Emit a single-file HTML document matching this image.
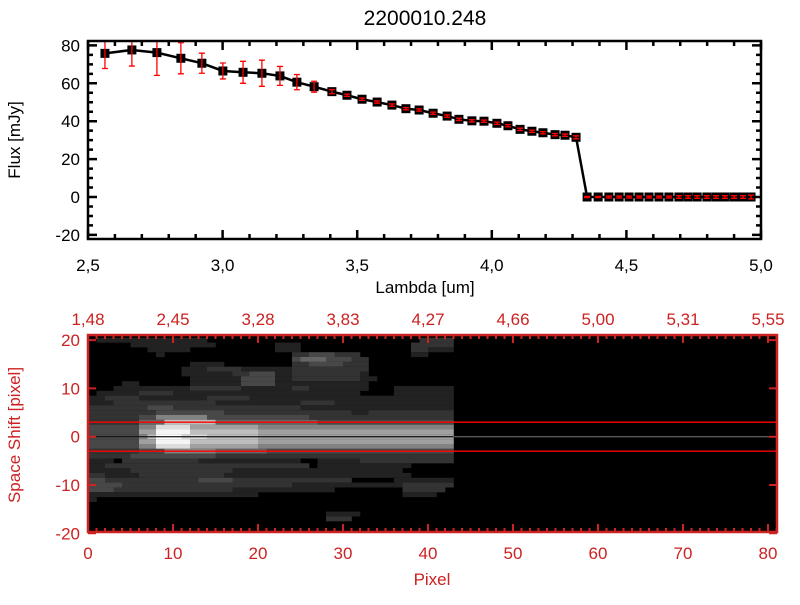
<!DOCTYPE html>
<html><head><meta charset="utf-8"><style>
body{margin:0;background:#fff;}
svg text{font-family:"Liberation Sans",sans-serif;}
</style></head><body>
<svg id="c" width="800" height="600" xmlns="http://www.w3.org/2000/svg">
<text x="425" y="25" font-size="21" text-anchor="middle">2200010.248</text>
<g id="top"></g>
<g id="bot"></g>
</svg>
<script>
const lambdas=[2.563,2.663,2.756,2.845,2.923,3.001,3.076,3.146,3.213,3.276,3.340,3.406,3.462,3.518,3.574,3.629,3.681,3.730,3.782,3.834,3.878,3.926,3.971,4.019,4.060,4.105,4.149,4.190,4.235,4.272,4.313,4.354,4.395,4.435,4.473,4.510,4.547,4.584,4.621,4.658,4.695,4.729,4.763,4.799,4.833,4.866,4.900,4.933,4.963];
const fluxes=[75.8,77.6,76.2,73.2,70.6,66.5,65.8,65.3,63.9,60.6,58.2,55.6,53.7,51.6,50.1,48.5,46.6,45.9,44.2,42.7,41.0,40.2,40.0,38.9,37.6,35.7,34.7,33.9,32.9,32.6,31.5,0,0,0,0,0,0,0,0,0,0,0,0,0,0,0,0,0,0];
const errors=[8,8.5,12,8.2,5.3,4.2,5.8,6.9,5,4,2.9,1.1,0.6,0.6,0.6,0.6,0.6,0.6,0.6,0.6,0.6,0.6,0.6,0.6,0.6,0.6,0.6,0.6,0.6,0.6,0.8,0.3,0.3,0.5,0.5,0.5,0.5,0.5,0.5,0.5,0.7,0.7,0.7,0.7,0.7,0.7,0.7,0.7,1];
const xTicks=[2.5,3.0,3.5,4.0,4.5,5.0];
const xTickLabels=["2,5","3,0","3,5","4,0","4,5","5,0"];
const yTicks=[-20,0,20,40,60,80];
const pixTicks=[0,10,20,30,40,50,60,70,80];
const lamTopLabels=["1,48","2,45","3,28","3,83","4,27","4,66","5,00","5,31","5,55"];
const shiftTicks=[-20,-10,0,10,20];
const imgRows=[
"0:1,1:13,0:25,2:4","0:5,1:10,0:7,1:3,0:13,2:5","0:7,1:5,0:10,1:3,0:13,2:2,1:3","0:8,1:1,0:15,2:2,3:3,2:3,0:6,1:2,0:3",
"0:24,3:1,4:3,3:3,2:2,0:10","0:12,1:4,0:8,2:2,3:4,2:3,0:10","0:11,1:3,2:4,1:6,2:9,0:10","0:11,1:6,2:2,3:3,1:2,2:8,1:1,0:10",
"0:12,1:6,3:4,1:2,2:8,1:2,0:9","0:4,1:2,0:6,1:6,3:4,1:11,0:10","0:3,1:9,2:6,1:6,2:2,1:7,0:3,1:7","0:1,1:5,2:4,1:22,0:4,1:7",
"1:2,2:4,1:8,2:5,1:24","1:3,2:12,1:10,2:4,1:14","2:7,3:3,2:15,1:18","2:8,3:8,2:15,1:2,2:10",
"2:6,3:2,5:6,3:12,2:17","2:6,4:3,7:6,4:12,3:16","3:6,5:2,8:4,6:8,5:23","3:6,6:2,9:4,7:8,6:23",
"3:6,5:1,7:1,10:3,8:3,7:6,6:23",
"3:6,6:2,9:4,7:8,6:23","3:6,5:2,8:4,6:8,5:23","2:6,3:3,5:6,4:6,3:22","2:5,3:10,2:28",
"1:3,0:1,2:9,1:12,0:2,1:5,2:11","1:2,2:24,0:1,1:11,0:5","1:5,2:12,1:20,0:6","2:2,1:4,2:10,1:22,0:5",
"3:2,2:11,3:4,2:14,0:5,1:7","3:4,2:20,1:13,2:6","3:3,2:14,1:12,0:8,2:5,0:1","1:20,0:17,1:4,0:2",
"1:1,0:42","0:43","0:43","0:28,1:4,0:11","0:28,2:3,0:12","0:43","0:43","0:43"];
const NS="http://www.w3.org/2000/svg";
function mk(p,tag,at,txt){const e=document.createElementNS(NS,tag);for(const k in at)e.setAttribute(k,at[k]);if(txt!==undefined)e.textContent=txt;p.appendChild(e);return e;}
// top plot
const T=document.getElementById('top');
const X0=88,X1=761,Y0=41,Y1=239;
const xs=v=>X0+(v-2.5)/2.5*(X1-X0);
const ys=v=>197-v*1.895;
let d='';lambdas.forEach((l,i)=>{d+=(i?'L':'M')+xs(l)+','+ys(fluxes[i]);});
let e=mk(T,'path',{d:d,fill:'none',stroke:'#000','stroke-width':2.5});

lambdas.forEach((l,i)=>{const x=xs(l),y=ys(fluxes[i]);
 const r=mk(T,'rect',{x:x-4.5,y:y-4.5,width:9,height:9,fill:'#000'});
 
});
lambdas.forEach((l,i)=>{const x=xs(l),y=ys(fluxes[i]);
 const t=Math.max(Y0,ys(fluxes[i]+errors[i])),b=ys(fluxes[i]-errors[i]);
 const g=mk(T,'path',{d:`M${x},${t}V${b}M${x-3},${t}H${x+3}M${x-3},${b}H${x+3}`,stroke:'#f00','stroke-width':1.3,fill:'none'});
 
});
mk(T,'rect',{x:X0,y:Y0,width:X1-X0,height:Y1-Y0,fill:'none',stroke:'#000','stroke-width':2.5,});
for(let v=2.5;v<=5.001;v+=0.1){const x=xs(v);const maj=Math.abs(v*2-Math.round(v*2))<0.01;const L=maj?9:5;
 mk(T,'path',{d:`M${x},${Y1}v${-L}M${x},${Y0}v${L}`,stroke:'#000','stroke-width':2.5});}
xTicks.forEach((v,i)=>{const t=mk(T,'text',{x:xs(v),y:271,'font-size':17,'text-anchor':'middle'},xTickLabels[i]);
 });
for(let v=-20;v<=80;v+=5){const y=ys(v);const L=v%20===0?9:5;
 mk(T,'path',{d:`M${X0},${y}h${L}M${X1},${y}h${-L}`,stroke:'#000','stroke-width':2.5});}
yTicks.forEach(v=>{const t=mk(T,'text',{x:80,y:ys(v)+6,'font-size':17,'text-anchor':'end'},String(v));
 });
mk(T,'text',{x:425,y:293,'font-size':17,'text-anchor':'middle',},'Lambda [um]');
mk(T,'text',{x:20,y:140,'font-size':17,'text-anchor':'middle',transform:'rotate(-90 20 140)',},'Flux [mJy]');
// bottom plot
const B=document.getElementById('bot');
const RED='#cc2222';
const BX0=88,BX1=777,BY0=335,BY1=532;
const px=v=>BX0+v*8.5;
const sy=v=>436.7-v*4.83;
mk(B,'rect',{x:BX0,y:BY0,width:BX1-BX0,height:BY1-BY0,fill:'#000',});
const lv=[0,34,51,72,100,130,160,190,220,245,255];
imgRows.forEach((row,r)=>{const v=20-r;let c=0;
 row.split(',').forEach(s=>{const [L,n]=s.split(':').map(Number);
  if(L>0){const g=lv[L];const cell=mk(B,'rect',{x:px(c),y:Math.max(BY0,sy(v+0.5)),width:8.5*n+0.3,height:4.9,fill:`rgb(${g},${g},${g})`});
   }
  c+=n;});
});
mk(B,'line',{x1:BX0,x2:BX1,y1:sy(0),y2:sy(0),stroke:'#777','stroke-width':1,});
mk(B,'line',{x1:BX0,x2:px(43),y1:sy(0),y2:sy(0),stroke:'#000','stroke-width':1});
mk(B,'line',{x1:BX0,x2:BX1,y1:sy(3),y2:sy(3),stroke:'#f00','stroke-width':1.3,});
mk(B,'line',{x1:BX0,x2:BX1,y1:sy(-3),y2:sy(-3),stroke:'#f00','stroke-width':1.3,});
mk(B,'rect',{x:BX0,y:BY0,width:BX1-BX0,height:BY1-BY0,fill:'none',stroke:RED,'stroke-width':2.5,});
for(let v=0;v<=81;v++){const x=px(v);const L=v%10===0?8:4;
 mk(B,'path',{d:`M${x},${BY1}v${-L}M${x},${BY0}v${L}`,stroke:RED,'stroke-width':2});}
pixTicks.forEach((v,i)=>{
 const t=mk(B,'text',{x:px(v),y:559,'font-size':17,'text-anchor':'middle',fill:RED},String(v));
 
 const u=mk(B,'text',{x:px(v),y:325,'font-size':17,'text-anchor':'middle',fill:RED},lamTopLabels[i]);
 });
shiftTicks.forEach(v=>{const y=sy(v);mk(B,'path',{d:`M${BX0},${y}h8M${BX1},${y}h-8`,stroke:RED,'stroke-width':2});
 const t=mk(B,'text',{x:80,y:y+6,'font-size':17,'text-anchor':'end',fill:RED},String(v));
 });
mk(B,'text',{x:432,y:585,'font-size':17,'text-anchor':'middle',fill:RED,},'Pixel');
mk(B,'text',{x:20,y:435,'font-size':17,'text-anchor':'middle',fill:RED,transform:'rotate(-90 20 435)',},'Space Shift [pixel]');
</script>
</body></html>
